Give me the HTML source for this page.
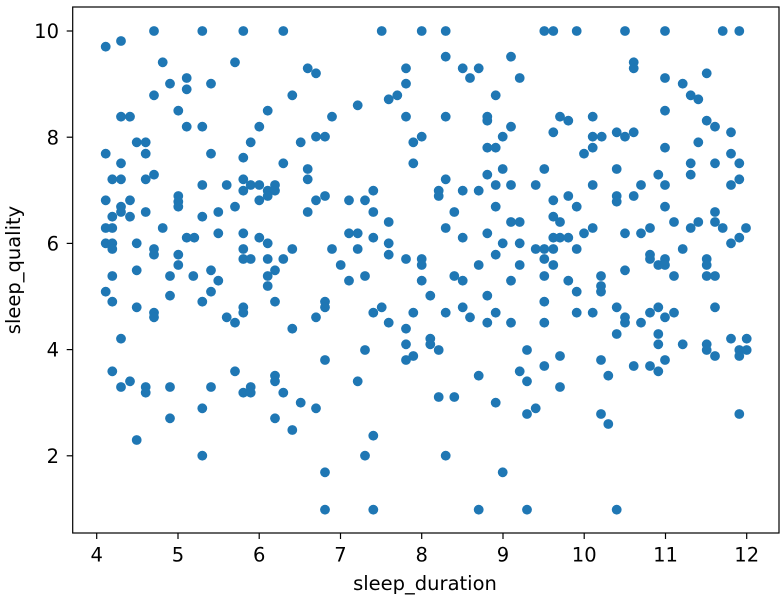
<!DOCTYPE html>
<html><head><meta charset="utf-8"><style>
html,body{margin:0;padding:0;background:#fff;}
svg{display:block;}
text{font-family:"DejaVu Sans","Liberation Sans",sans-serif;fill:#000;}
</style></head><body>
<svg width="784" height="605" viewBox="0 0 784 605" xmlns="http://www.w3.org/2000/svg">
<rect x="0" y="0" width="784" height="605" fill="#fff"/>
<g fill="#1f77b4">
<circle cx="154" cy="31" r="4.9"/><circle cx="202.3" cy="31" r="4.9"/><circle cx="243.3" cy="31" r="4.9"/><circle cx="283.3" cy="31" r="4.9"/>
<circle cx="105.7" cy="46.7" r="4.9"/><circle cx="121" cy="41" r="4.9"/><circle cx="162.7" cy="62.3" r="4.9"/><circle cx="235" cy="62.3" r="4.9"/>
<circle cx="186.7" cy="78" r="4.9"/><circle cx="170" cy="83.7" r="4.9"/><circle cx="186.7" cy="89.3" r="4.9"/><circle cx="211" cy="83.7" r="4.9"/>
<circle cx="154" cy="95.3" r="4.9"/><circle cx="292.3" cy="95.3" r="4.9"/><circle cx="178.3" cy="110.7" r="4.9"/><circle cx="267.7" cy="110.7" r="4.9"/>
<circle cx="121" cy="116.7" r="4.9"/><circle cx="130" cy="116.7" r="4.9"/><circle cx="186.7" cy="126.7" r="4.9"/><circle cx="202.3" cy="126.7" r="4.9"/>
<circle cx="259.3" cy="126.7" r="4.9"/><circle cx="136.7" cy="142.3" r="4.9"/><circle cx="145.7" cy="142.3" r="4.9"/><circle cx="250.7" cy="142.3" r="4.9"/>
<circle cx="300.7" cy="142.3" r="4.9"/><circle cx="105.7" cy="153.7" r="4.9"/><circle cx="145.7" cy="153.7" r="4.9"/><circle cx="211" cy="153.7" r="4.9"/>
<circle cx="243.3" cy="157.7" r="4.9"/><circle cx="121" cy="163.3" r="4.9"/><circle cx="283.3" cy="163.3" r="4.9"/><circle cx="112.3" cy="179.3" r="4.9"/>
<circle cx="121" cy="179.3" r="4.9"/><circle cx="145.7" cy="179.3" r="4.9"/><circle cx="154" cy="174.7" r="4.9"/><circle cx="243.3" cy="179.3" r="4.9"/>
<circle cx="202.3" cy="185" r="4.9"/><circle cx="226.7" cy="185" r="4.9"/><circle cx="250.7" cy="185" r="4.9"/><circle cx="259.3" cy="185" r="4.9"/>
<circle cx="275" cy="185" r="4.9"/><circle cx="243.3" cy="190.7" r="4.9"/><circle cx="267.7" cy="190.7" r="4.9"/><circle cx="275" cy="190.7" r="4.9"/>
<circle cx="267.7" cy="196" r="4.9"/><circle cx="178.3" cy="196" r="4.9"/><circle cx="178.3" cy="201.7" r="4.9"/><circle cx="178.3" cy="206.7" r="4.9"/>
<circle cx="105.7" cy="200.3" r="4.9"/><circle cx="130" cy="200.3" r="4.9"/><circle cx="121" cy="206.7" r="4.9"/><circle cx="121" cy="212" r="4.9"/>
<circle cx="112.3" cy="216.7" r="4.9"/><circle cx="130" cy="216.7" r="4.9"/><circle cx="145.7" cy="212" r="4.9"/><circle cx="259.3" cy="200.3" r="4.9"/>
<circle cx="235" cy="206.7" r="4.9"/><circle cx="218.3" cy="212" r="4.9"/><circle cx="202.3" cy="216.7" r="4.9"/><circle cx="105.7" cy="228" r="4.9"/>
<circle cx="112.3" cy="228" r="4.9"/><circle cx="162.7" cy="228" r="4.9"/><circle cx="186.7" cy="237.7" r="4.9"/><circle cx="194.3" cy="237.7" r="4.9"/>
<circle cx="218.3" cy="233.3" r="4.9"/><circle cx="243.3" cy="233.3" r="4.9"/><circle cx="259.3" cy="237.7" r="4.9"/><circle cx="267.7" cy="243.3" r="4.9"/>
<circle cx="292.3" cy="249" r="4.9"/><circle cx="105.7" cy="243.3" r="4.9"/><circle cx="112.3" cy="243.3" r="4.9"/><circle cx="112.3" cy="249" r="4.9"/>
<circle cx="136.7" cy="243.3" r="4.9"/><circle cx="154" cy="249" r="4.9"/><circle cx="154" cy="254.7" r="4.9"/><circle cx="178.3" cy="254.7" r="4.9"/>
<circle cx="243.3" cy="249" r="4.9"/><circle cx="243.3" cy="259" r="4.9"/><circle cx="250.7" cy="259" r="4.9"/><circle cx="267.7" cy="259" r="4.9"/>
<circle cx="283.3" cy="259" r="4.9"/>

<circle cx="381.7" cy="31" r="4.9"/><circle cx="421.7" cy="31" r="4.9"/><circle cx="445.7" cy="31" r="4.9"/><circle cx="445.7" cy="56.7" r="4.9"/>
<circle cx="511" cy="56.7" r="4.9"/><circle cx="307.7" cy="68.3" r="4.9"/><circle cx="316" cy="73.3" r="4.9"/><circle cx="406" cy="68.3" r="4.9"/>
<circle cx="406" cy="83.7" r="4.9"/><circle cx="462.7" cy="68.3" r="4.9"/><circle cx="478.7" cy="68.3" r="4.9"/><circle cx="470" cy="78" r="4.9"/>
<circle cx="519.7" cy="78" r="4.9"/><circle cx="495.7" cy="95.3" r="4.9"/><circle cx="397.3" cy="95.3" r="4.9"/><circle cx="388.7" cy="99.3" r="4.9"/>
<circle cx="357.7" cy="105.3" r="4.9"/><circle cx="332" cy="116.7" r="4.9"/><circle cx="406" cy="116.7" r="4.9"/><circle cx="445.7" cy="116.7" r="4.9"/>
<circle cx="487.3" cy="116.7" r="4.9"/><circle cx="487.3" cy="120.7" r="4.9"/><circle cx="511" cy="126.7" r="4.9"/><circle cx="502.7" cy="136.7" r="4.9"/>
<circle cx="487.3" cy="147.7" r="4.9"/><circle cx="495.7" cy="147.7" r="4.9"/><circle cx="316" cy="136.7" r="4.9"/><circle cx="325" cy="136.7" r="4.9"/>
<circle cx="413.3" cy="142.3" r="4.9"/><circle cx="421.7" cy="136.7" r="4.9"/><circle cx="413.3" cy="163.3" r="4.9"/><circle cx="307.7" cy="169" r="4.9"/>
<circle cx="307.7" cy="179.3" r="4.9"/><circle cx="445.7" cy="179.3" r="4.9"/><circle cx="487.3" cy="174.7" r="4.9"/><circle cx="502.7" cy="169" r="4.9"/>
<circle cx="495.7" cy="185" r="4.9"/><circle cx="511" cy="185" r="4.9"/><circle cx="535.7" cy="185" r="4.9"/><circle cx="373.3" cy="190.7" r="4.9"/>
<circle cx="438.7" cy="190.7" r="4.9"/><circle cx="438.7" cy="196" r="4.9"/><circle cx="462.7" cy="190.7" r="4.9"/><circle cx="478.7" cy="190.7" r="4.9"/>
<circle cx="316" cy="200.3" r="4.9"/><circle cx="325" cy="196" r="4.9"/><circle cx="349" cy="200.3" r="4.9"/><circle cx="365" cy="200.3" r="4.9"/>
<circle cx="307.7" cy="212" r="4.9"/><circle cx="373.3" cy="212" r="4.9"/><circle cx="454.3" cy="212" r="4.9"/><circle cx="495.7" cy="206.7" r="4.9"/>
<circle cx="388.7" cy="222" r="4.9"/><circle cx="445.7" cy="228" r="4.9"/><circle cx="511" cy="222" r="4.9"/><circle cx="519.7" cy="222" r="4.9"/>
<circle cx="349" cy="233.3" r="4.9"/><circle cx="357.7" cy="233.3" r="4.9"/><circle cx="373.3" cy="237.7" r="4.9"/><circle cx="388.7" cy="243.3" r="4.9"/>
<circle cx="388.7" cy="254.7" r="4.9"/><circle cx="462.7" cy="237.7" r="4.9"/><circle cx="487.3" cy="233.3" r="4.9"/><circle cx="502.7" cy="243.3" r="4.9"/>
<circle cx="519.7" cy="243.3" r="4.9"/><circle cx="535.7" cy="249" r="4.9"/><circle cx="332" cy="249" r="4.9"/><circle cx="357.7" cy="249" r="4.9"/>
<circle cx="495.7" cy="254.7" r="4.9"/><circle cx="406" cy="259" r="4.9"/><circle cx="421.7" cy="259" r="4.9"/>

<circle cx="544.3" cy="31" r="4.9"/><circle cx="553.3" cy="31" r="4.9"/><circle cx="576.7" cy="31" r="4.9"/><circle cx="625" cy="31" r="4.9"/>
<circle cx="665" cy="31" r="4.9"/><circle cx="722.7" cy="31" r="4.9"/><circle cx="739.3" cy="31" r="4.9"/><circle cx="633.7" cy="62.3" r="4.9"/>
<circle cx="633.7" cy="68.3" r="4.9"/><circle cx="665" cy="78" r="4.9"/><circle cx="706.7" cy="73.3" r="4.9"/><circle cx="682.7" cy="83.7" r="4.9"/>
<circle cx="690.7" cy="95.3" r="4.9"/><circle cx="698.3" cy="99.3" r="4.9"/><circle cx="665" cy="110.7" r="4.9"/><circle cx="560" cy="116.7" r="4.9"/>
<circle cx="568.3" cy="120.7" r="4.9"/><circle cx="592.7" cy="116.7" r="4.9"/><circle cx="553.3" cy="132.3" r="4.9"/><circle cx="592.7" cy="136.7" r="4.9"/>
<circle cx="601.7" cy="136.7" r="4.9"/><circle cx="592.7" cy="147.7" r="4.9"/><circle cx="584" cy="153.7" r="4.9"/><circle cx="616.7" cy="132.3" r="4.9"/>
<circle cx="625" cy="136.7" r="4.9"/><circle cx="633.7" cy="132.3" r="4.9"/><circle cx="665" cy="147.7" r="4.9"/><circle cx="706.7" cy="120.7" r="4.9"/>
<circle cx="715" cy="126.7" r="4.9"/><circle cx="731" cy="132.3" r="4.9"/><circle cx="698.3" cy="142.3" r="4.9"/><circle cx="731" cy="153.7" r="4.9"/>
<circle cx="739.3" cy="163.3" r="4.9"/><circle cx="690.7" cy="163.3" r="4.9"/><circle cx="715" cy="163.3" r="4.9"/><circle cx="690.7" cy="174.7" r="4.9"/>
<circle cx="544.3" cy="169" r="4.9"/><circle cx="616.7" cy="169" r="4.9"/><circle cx="658.3" cy="174.7" r="4.9"/><circle cx="592.7" cy="185" r="4.9"/>
<circle cx="641" cy="185" r="4.9"/><circle cx="665" cy="185" r="4.9"/><circle cx="731" cy="185" r="4.9"/><circle cx="739.3" cy="179.3" r="4.9"/>
<circle cx="568.3" cy="196" r="4.9"/><circle cx="553.3" cy="200.3" r="4.9"/><circle cx="576.7" cy="206.7" r="4.9"/><circle cx="616.7" cy="196" r="4.9"/>
<circle cx="616.7" cy="201.7" r="4.9"/><circle cx="633.7" cy="196" r="4.9"/><circle cx="665" cy="206.7" r="4.9"/><circle cx="553.3" cy="216.7" r="4.9"/>
<circle cx="560" cy="222" r="4.9"/><circle cx="715" cy="212" r="4.9"/><circle cx="715" cy="222" r="4.9"/><circle cx="722.7" cy="228" r="4.9"/>
<circle cx="674" cy="222" r="4.9"/><circle cx="690.7" cy="228" r="4.9"/><circle cx="698.3" cy="222" r="4.9"/><circle cx="746" cy="228" r="4.9"/>
<circle cx="739.3" cy="237.7" r="4.9"/><circle cx="731" cy="243.3" r="4.9"/><circle cx="584" cy="233.3" r="4.9"/><circle cx="592.7" cy="228" r="4.9"/>
<circle cx="625" cy="233.3" r="4.9"/><circle cx="641" cy="233.3" r="4.9"/><circle cx="650" cy="228" r="4.9"/><circle cx="553.3" cy="237.7" r="4.9"/>
<circle cx="560" cy="237.7" r="4.9"/><circle cx="568.3" cy="237.7" r="4.9"/><circle cx="544.3" cy="249" r="4.9"/><circle cx="553.3" cy="249" r="4.9"/>
<circle cx="576.7" cy="249" r="4.9"/><circle cx="682.7" cy="249" r="4.9"/><circle cx="544.3" cy="259" r="4.9"/><circle cx="650" cy="254.7" r="4.9"/>
<circle cx="650" cy="259" r="4.9"/><circle cx="665" cy="259" r="4.9"/><circle cx="706.7" cy="259" r="4.9"/>

<circle cx="178.3" cy="265" r="4.9"/><circle cx="136.7" cy="270.3" r="4.9"/><circle cx="211" cy="270.3" r="4.9"/><circle cx="275" cy="270.3" r="4.9"/>
<circle cx="112.3" cy="276" r="4.9"/><circle cx="170" cy="276" r="4.9"/><circle cx="193.3" cy="276" r="4.9"/><circle cx="267.7" cy="276" r="4.9"/>
<circle cx="218.3" cy="280.7" r="4.9"/><circle cx="267.7" cy="286" r="4.9"/><circle cx="105.7" cy="291.7" r="4.9"/><circle cx="211" cy="291.7" r="4.9"/>
<circle cx="170" cy="295.7" r="4.9"/><circle cx="112.3" cy="301.7" r="4.9"/><circle cx="202.3" cy="301.7" r="4.9"/><circle cx="275" cy="301.7" r="4.9"/>
<circle cx="136.7" cy="307.3" r="4.9"/><circle cx="243.3" cy="307.3" r="4.9"/><circle cx="243.3" cy="312.7" r="4.9"/><circle cx="154" cy="312.7" r="4.9"/>
<circle cx="154" cy="317.3" r="4.9"/><circle cx="226.7" cy="317.3" r="4.9"/><circle cx="235" cy="322.7" r="4.9"/><circle cx="292.3" cy="328.7" r="4.9"/>
<circle cx="121" cy="338.7" r="4.9"/><circle cx="112.3" cy="371.3" r="4.9"/><circle cx="235" cy="371.3" r="4.9"/><circle cx="130" cy="381.3" r="4.9"/>
<circle cx="121" cy="387" r="4.9"/><circle cx="145.7" cy="387" r="4.9"/><circle cx="145.7" cy="392.7" r="4.9"/><circle cx="170" cy="387" r="4.9"/>
<circle cx="211" cy="387" r="4.9"/><circle cx="243.3" cy="392.7" r="4.9"/><circle cx="250.7" cy="387" r="4.9"/><circle cx="250.7" cy="392.7" r="4.9"/>
<circle cx="275" cy="375.7" r="4.9"/><circle cx="275" cy="381.3" r="4.9"/><circle cx="283.3" cy="392.7" r="4.9"/><circle cx="300.7" cy="402.7" r="4.9"/>
<circle cx="202.3" cy="408.3" r="4.9"/><circle cx="170" cy="418.3" r="4.9"/><circle cx="275" cy="418.3" r="4.9"/><circle cx="292.3" cy="430" r="4.9"/>
<circle cx="136.7" cy="440" r="4.9"/><circle cx="202.3" cy="455.7" r="4.9"/>

<circle cx="340.7" cy="265" r="4.9"/><circle cx="421.7" cy="265" r="4.9"/><circle cx="478.7" cy="265" r="4.9"/><circle cx="519.7" cy="265" r="4.9"/>
<circle cx="349" cy="280.7" r="4.9"/><circle cx="365" cy="276" r="4.9"/><circle cx="421.7" cy="280.7" r="4.9"/><circle cx="454.3" cy="276" r="4.9"/>
<circle cx="462.7" cy="280.7" r="4.9"/><circle cx="511" cy="280.7" r="4.9"/><circle cx="430.3" cy="295.7" r="4.9"/><circle cx="487.3" cy="295.7" r="4.9"/>
<circle cx="325" cy="301.7" r="4.9"/><circle cx="325" cy="307.3" r="4.9"/><circle cx="316" cy="317.3" r="4.9"/><circle cx="373.3" cy="312.7" r="4.9"/>
<circle cx="381.7" cy="307.3" r="4.9"/><circle cx="388.7" cy="322.7" r="4.9"/><circle cx="413.3" cy="312.7" r="4.9"/><circle cx="406" cy="328.7" r="4.9"/>
<circle cx="445.7" cy="312.7" r="4.9"/><circle cx="462.7" cy="307.3" r="4.9"/><circle cx="470" cy="317.3" r="4.9"/><circle cx="487.3" cy="322.7" r="4.9"/>
<circle cx="495.7" cy="312.7" r="4.9"/><circle cx="511" cy="322.7" r="4.9"/><circle cx="406" cy="344.3" r="4.9"/><circle cx="430.3" cy="338.7" r="4.9"/>
<circle cx="430.3" cy="344.3" r="4.9"/><circle cx="438.7" cy="350" r="4.9"/><circle cx="413.3" cy="356" r="4.9"/><circle cx="406" cy="360" r="4.9"/>
<circle cx="365" cy="350" r="4.9"/><circle cx="325" cy="360" r="4.9"/><circle cx="357.7" cy="381.3" r="4.9"/><circle cx="478.7" cy="375.7" r="4.9"/>
<circle cx="519.7" cy="371.3" r="4.9"/><circle cx="527" cy="350" r="4.9"/><circle cx="527" cy="381.3" r="4.9"/><circle cx="316" cy="408.3" r="4.9"/>
<circle cx="438.7" cy="397" r="4.9"/><circle cx="454.3" cy="397" r="4.9"/><circle cx="495.7" cy="402.7" r="4.9"/><circle cx="527" cy="414" r="4.9"/>
<circle cx="535.7" cy="408.3" r="4.9"/><circle cx="373.3" cy="435.7" r="4.9"/><circle cx="365" cy="455.7" r="4.9"/><circle cx="445.7" cy="455.7" r="4.9"/>
<circle cx="325" cy="472.3" r="4.9"/><circle cx="502.7" cy="472.3" r="4.9"/><circle cx="325" cy="509.7" r="4.9"/><circle cx="373.3" cy="509.7" r="4.9"/>
<circle cx="478.7" cy="509.7" r="4.9"/><circle cx="527" cy="509.7" r="4.9"/>

<circle cx="553.3" cy="265" r="4.9"/><circle cx="658.3" cy="265" r="4.9"/><circle cx="665" cy="265" r="4.9"/><circle cx="706.7" cy="265" r="4.9"/>
<circle cx="544.3" cy="276" r="4.9"/><circle cx="568.3" cy="280.7" r="4.9"/><circle cx="576.7" cy="291.7" r="4.9"/><circle cx="601" cy="276" r="4.9"/>
<circle cx="601" cy="286" r="4.9"/><circle cx="601" cy="291.7" r="4.9"/><circle cx="625" cy="270.3" r="4.9"/><circle cx="674" cy="276" r="4.9"/>
<circle cx="706.7" cy="276" r="4.9"/><circle cx="715" cy="276" r="4.9"/><circle cx="544.3" cy="301.7" r="4.9"/><circle cx="544.3" cy="322.7" r="4.9"/>
<circle cx="576.7" cy="312.7" r="4.9"/><circle cx="592.7" cy="312.7" r="4.9"/><circle cx="616.7" cy="307.3" r="4.9"/><circle cx="625" cy="317.3" r="4.9"/>
<circle cx="625" cy="322.7" r="4.9"/><circle cx="641" cy="322.7" r="4.9"/><circle cx="650" cy="312.7" r="4.9"/><circle cx="658.3" cy="307.3" r="4.9"/>
<circle cx="665" cy="317.3" r="4.9"/><circle cx="674" cy="312.7" r="4.9"/><circle cx="715" cy="307.3" r="4.9"/><circle cx="616.7" cy="334" r="4.9"/>
<circle cx="658.3" cy="334" r="4.9"/><circle cx="658.3" cy="344.3" r="4.9"/><circle cx="682.7" cy="344.3" r="4.9"/><circle cx="706.7" cy="344.3" r="4.9"/>
<circle cx="706.7" cy="350" r="4.9"/><circle cx="715" cy="356" r="4.9"/><circle cx="731" cy="338.7" r="4.9"/><circle cx="746.7" cy="338.7" r="4.9"/>
<circle cx="739.3" cy="350" r="4.9"/><circle cx="746.7" cy="350" r="4.9"/><circle cx="739.3" cy="356" r="4.9"/><circle cx="544.3" cy="366" r="4.9"/>
<circle cx="560" cy="356" r="4.9"/><circle cx="601" cy="360" r="4.9"/><circle cx="608.3" cy="375.7" r="4.9"/><circle cx="633.7" cy="366" r="4.9"/>
<circle cx="650" cy="366" r="4.9"/><circle cx="658.3" cy="371.3" r="4.9"/><circle cx="665" cy="360" r="4.9"/><circle cx="560" cy="387" r="4.9"/>
<circle cx="601" cy="414" r="4.9"/><circle cx="608.3" cy="424" r="4.9"/><circle cx="739.3" cy="414" r="4.9"/><circle cx="616.7" cy="509.7" r="4.9"/>
</g>
<!-- axes frame -->
<rect x="72.7" y="7" width="706.3" height="526" fill="none" stroke="#000" stroke-width="1.2"/>
<!-- x ticks -->
<g stroke="#000" stroke-width="1.2">
<line x1="96.7" y1="533" x2="96.7" y2="539"/>
<line x1="178" y1="533" x2="178" y2="539"/>
<line x1="259.2" y1="533" x2="259.2" y2="539"/>
<line x1="340.5" y1="533" x2="340.5" y2="539"/>
<line x1="421.7" y1="533" x2="421.7" y2="539"/>
<line x1="503" y1="533" x2="503" y2="539"/>
<line x1="584.2" y1="533" x2="584.2" y2="539"/>
<line x1="665.5" y1="533" x2="665.5" y2="539"/>
<line x1="746.7" y1="533" x2="746.7" y2="539"/>
<line x1="66.7" y1="31" x2="72.7" y2="31"/>
<line x1="66.7" y1="137.2" x2="72.7" y2="137.2"/>
<line x1="66.7" y1="243.4" x2="72.7" y2="243.4"/>
<line x1="66.7" y1="349.6" x2="72.7" y2="349.6"/>
<line x1="66.7" y1="455.8" x2="72.7" y2="455.8"/>
</g>
<g font-size="19.5" text-anchor="middle">
<text x="96.7" y="561.5">4</text>
<text x="178" y="561.5">5</text>
<text x="259.2" y="561.5">6</text>
<text x="340.5" y="561.5">7</text>
<text x="421.7" y="561.5">8</text>
<text x="503" y="561.5">9</text>
<text x="584.2" y="561.5">10</text>
<text x="665.5" y="561.5">11</text>
<text x="746.7" y="561.5">12</text>
</g>
<g font-size="19.5" text-anchor="end">
<text x="59" y="38.1">10</text>
<text x="59" y="144.3">8</text>
<text x="59" y="250.5">6</text>
<text x="59" y="356.7">4</text>
<text x="59" y="462.9">2</text>
</g>
<text x="425" y="590" font-size="19.5" text-anchor="middle">sleep_duration</text>
<text transform="translate(20,270) rotate(-90)" font-size="19.5" text-anchor="middle">sleep_quality</text>
</svg>
</body></html>
